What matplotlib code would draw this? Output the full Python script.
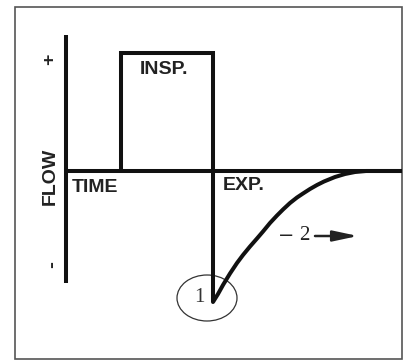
"""
Flow-time waveform sketch: square inspiratory flow, decelerating expiratory flow
"""
import matplotlib
matplotlib.use("Agg")
import matplotlib.pyplot as plt
from matplotlib.patches import Ellipse, Rectangle

# inspiratory square wave (time, flow)
insp_time = [55, 55, 147, 147]
insp_flow = [0, 118, 118, 0]

# expiratory limb: sudden drop then return to zero
exp_time = [147, 147, 152, 157, 164, 171, 177, 184, 191, 197, 204, 211, 217,
            224, 231, 237, 244, 251, 258, 269, 279, 289, 300, 336]
exp_flow = [0, -131, -123, -114, -102.5, -92, -84, -75.5, -67.5, -60.5, -52, -44.5, -38.5,
            -32, -26.5, -22.5, -18, -14, -10.5, -6, -3, -1, 0, 0]

# axes extents
flow_axis = [136, -112]
time_axis = [0, 336]

ink = "#111111"

def draw():
    fig = plt.figure(figsize=(4.1, 3.61), dpi=100)
    ax = fig.add_axes([0, 0, 1, 1])
    ax.set_xlim(-66, 344)
    ax.set_ylim(-190, 171)
    ax.axis("off")

    # frame around the sketch
    ax.add_patch(Rectangle((-51, -188), 387, 352, fill=False,
                           edgecolor="#555555", lw=1.2))

    lw = 2.9
    ax.plot([0, 0], flow_axis, color=ink, lw=lw, solid_capstyle="butt")
    ax.plot(time_axis, [0, 0], color=ink, lw=lw, solid_capstyle="butt")
    ax.plot(insp_time, insp_flow, color=ink, lw=lw,
            solid_joinstyle="miter", solid_capstyle="butt")
    ax.plot(exp_time, exp_flow, color=ink, lw=lw,
            solid_joinstyle="round", solid_capstyle="butt")

    # circled marker 1 at peak expiratory flow
    ax.add_patch(Ellipse((141, -127), 60, 46, fill=False,
                         edgecolor="#333333", lw=0.9))
    ax.text(133, -126, "1", family="Liberation Serif", fontsize=15,
            ha="center", va="center", color="#333333")

    # labels
    bold = dict(family="Liberation Sans", fontweight="bold", color="#222222")
    ax.text(74, 101, "INSP.", fontsize=14, ha="left", va="center", **bold)
    ax.text(6, -16, "TIME", fontsize=14, ha="left", va="center", **bold)
    ax.text(157, -15, "EXP.", fontsize=14, ha="left", va="center", **bold)
    ax.text(-16, -5, "FLOW", fontsize=14, rotation=90,
            ha="center", va="center", **bold)
    ax.text(-16, 112, "+", fontsize=14, rotation=90,
            ha="center", va="center", **bold)
    ax.text(-14, -94, "-", fontsize=15, rotation=90,
            ha="center", va="center", **bold)

    # "-2 ->" note along the expiratory curve
    ax.text(220, -65, "\u2212", family="DejaVu Serif", fontsize=14,
            color="#222222", ha="center", va="center")
    ax.text(238, -65, "2", family="Liberation Serif", fontsize=15,
            color="#222222", ha="center", va="center")
    ax.annotate("", xy=(292, -65), xytext=(249, -65),
                arrowprops=dict(arrowstyle="-|>,head_length=1.5,head_width=0.32",
                                color="#222222", lw=1.8, shrinkA=0, shrinkB=0))

    fig.savefig("out.png", dpi=100)

if __name__ == "__main__":
    draw()
